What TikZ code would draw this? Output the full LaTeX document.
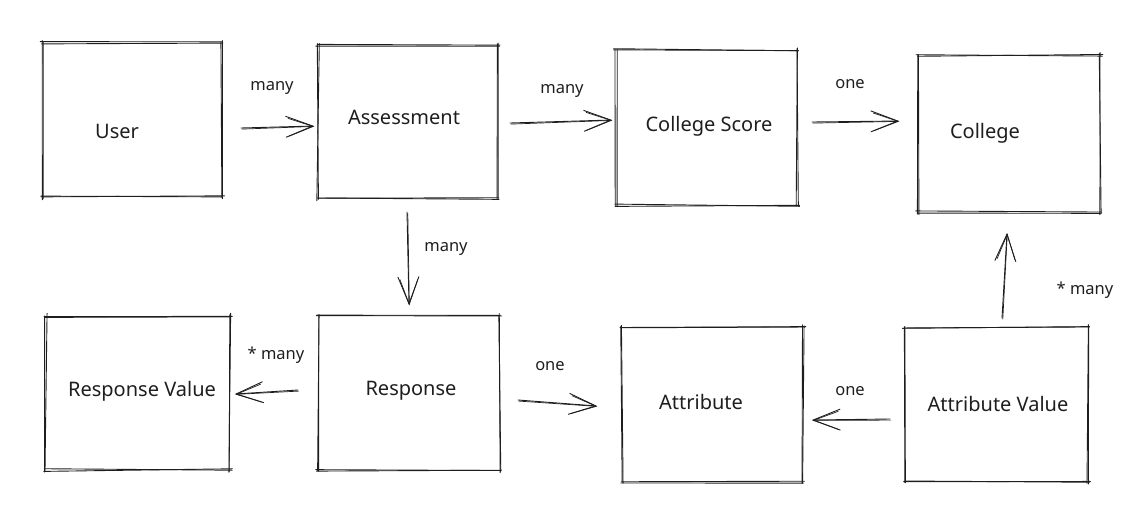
\documentclass[tikz,border=0pt]{standalone}
\usepackage{fontspec}
\setmainfont{Noto Sans}
\usetikzlibrary{arrows.meta,calc}

\definecolor{ink}{HTML}{1E1E1E}
\pgfmathsetseed{17}

\tikzset{
  box/.style={draw=none, inner sep=0pt, outer sep=0pt},
  boxtext/.style={font=\fontsize{20}{24}\selectfont, text=ink},
  reltext/.style={font=\fontsize{16.5}{19}\selectfont, text=ink},
  stroke/.style={draw=ink, line width=0.9pt, line cap=round, line join=round},
  arr/.style={stroke, -{Straight Barb[length=27pt, width=21pt]}},
  arrb/.style={stroke, line width=0.7pt, -{Straight Barb[length=25pt, width=18pt]}},
}

% hand-drawn outline: every edge stroked twice with small random offsets
\newcommand\roughbox[1]{%
  \foreach \k in {1,2}{%
    \draw[stroke] ([shift={(rand*1.4-1.5,rand*1.4)}]#1.north west) -- ([shift={(rand*1.4+1.5,rand*1.4)}]#1.north east);
    \draw[stroke] ([shift={(rand*1.4,rand*1.4-1.5)}]#1.north east) -- ([shift={(rand*1.4,rand*1.4+1.5)}]#1.south east);
    \draw[stroke] ([shift={(rand*1.4+1.5,rand*1.4)}]#1.south east) -- ([shift={(rand*1.4-1.5,rand*1.4)}]#1.south west);
    \draw[stroke] ([shift={(rand*1.4,rand*1.4+1.5)}]#1.south west) -- ([shift={(rand*1.4,rand*1.4-1.5)}]#1.north west);
  }%
}

% hand-drawn arrow: two slightly offset passes
\newcommand\sketcharrow[4]{%
  \draw[arr] ($(#1)+(#2)$) -- ($(#3)+(#4)$);
  \draw[arrb] ($(#1)+(#2)+(0.8,1.1)$) -- ($(#3)+(#4)+(0.3,0.4)$);
}

\begin{document}
\begin{tikzpicture}[x=1pt, y=-1pt]
  \useasboundingbox (0,0) rectangle (1134,522);

  % entity boxes
  \node[box, minimum width=180pt, minimum height=154pt] (user)    at (132,120)    {};
  \node[box, minimum width=180pt, minimum height=153pt] (assess)  at (408,121.5)  {};
  \node[box, minimum width=181pt, minimum height=155pt] (cscore)  at (706.5,127.5){};
  \node[box, minimum width=182pt, minimum height=157pt] (college) at (1009,133.5) {};
  \node[box, minimum width=184pt, minimum height=154pt] (rvalue)  at (138,393)    {};
  \node[box, minimum width=182pt, minimum height=154pt] (resp)    at (409,393)    {};
  \node[box, minimum width=181pt, minimum height=155pt] (attr)    at (712.5,404.5){};
  \node[box, minimum width=183pt, minimum height=155pt] (avalue)  at (996.5,404.5){};

  \foreach \b in {user,assess,cscore,college,rvalue,resp,attr,avalue}{\roughbox{\b}}

  % entity names
  \node[boxtext] (userT)    at (117,131)  {User};
  \node[boxtext] (assessT)  at (404,117)  {Assessment};
  \node[boxtext] (cscoreT)  at (709,126)  {College Score};
  \node[boxtext] (collegeT) at (985,133)  {College};
  \node[boxtext] (rvalueT)  at (142,391)  {Response Value};
  \node[boxtext] (respT)    at (411,391)  {Response};
  \node[boxtext] (attrT)    at (701,402)  {Attribute};
  \node[boxtext] (avalueT)  at (998,404)  {Attribute Value};

  % relationships
  \sketcharrow{user.east}{19,8}{assess.west}{-4,4.5}
  \sketcharrow{assess.east}{12,1.5}{cscore.west}{-4,-7.5}
  \sketcharrow{cscore.east}{15,-5.5}{college.west}{-19,-12.5}
  \sketcharrow{assess.south}{-1,14}{resp.north}{0,-11}
  \sketcharrow{resp.west}{-20,-3}{rvalue.east}{5,1}
  \sketcharrow{resp.east}{18,7}{attr.west}{-25,1.5}
  \sketcharrow{avalue.west}{-15,14.5}{attr.east}{9,15.5}
  \sketcharrow{avalue.north}{5.5,-9}{college.south}{-2,21}

  % multiplicities
  \node[reltext] (l1) at (272,88)  {many};
  \node[reltext] (l2) at (562,91)  {many};
  \node[reltext] (l3) at (850,84)  {one};
  \node[reltext] (l4) at (446,249) {many};
  \node[reltext] (l5) at (276,355) {* many};
  \node[reltext] (l6) at (550,366) {one};
  \node[reltext] (l7) at (850,391) {one};
  \node[reltext] (l8) at (1085,290){* many};
\end{tikzpicture}
\end{document}
